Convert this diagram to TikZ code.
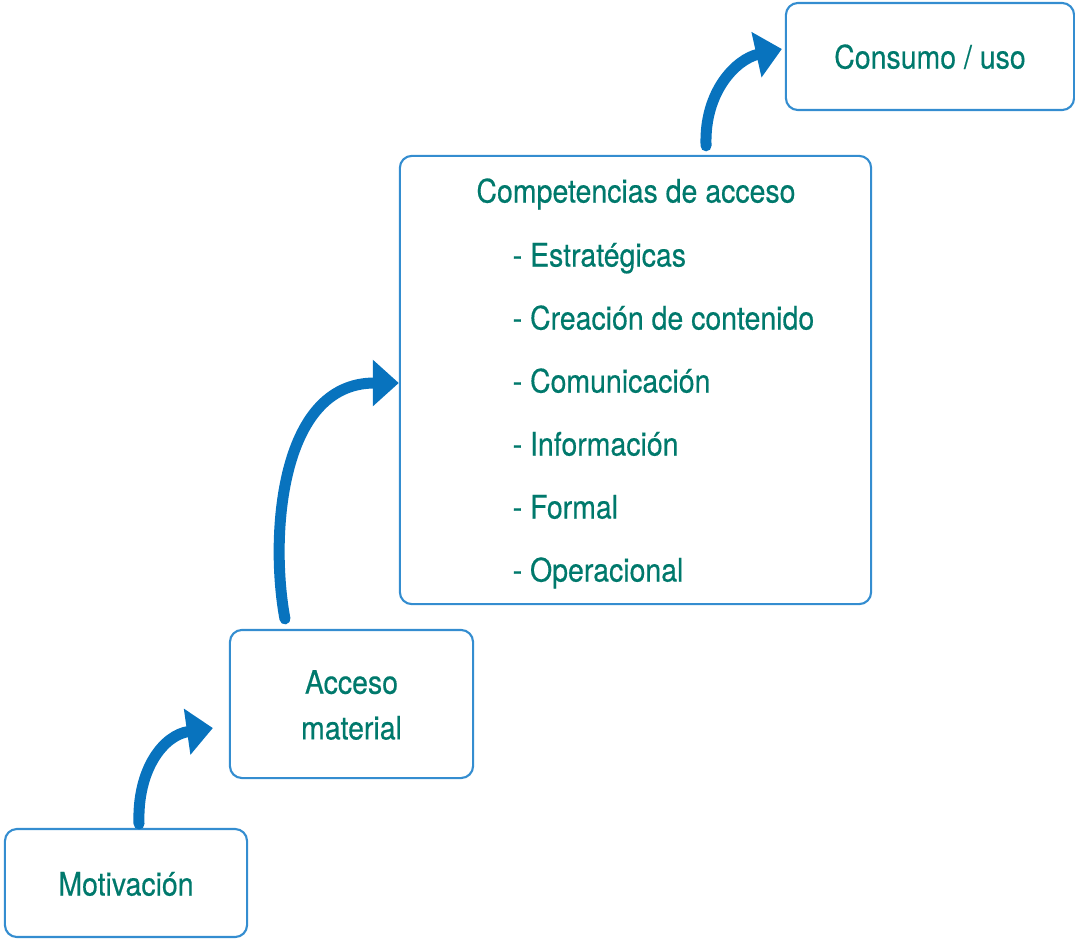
\documentclass[tikz,border=0pt]{standalone}
\usepackage{fontspec}
\setmainfont[FakeStretch=0.88, FakeBold=0.4]{TeX Gyre Heros}
\usetikzlibrary{arrows.meta}
\definecolor{tealtext}{RGB}{0,121,108}
\definecolor{boxblue}{RGB}{52,141,208}
\definecolor{arrowblue}{RGB}{8,115,190}

\begin{document}
\begin{tikzpicture}[x=0.01cm, y=-0.01cm,
		box/.style={draw=boxblue, line width=0.6pt, rounded corners=0.12cm, inner sep=0pt},
		lbl/.style={text=tealtext, font=\fontsize{9.2}{13}\selectfont, inner sep=0pt},
		flow/.style={draw=arrowblue, line width=0.11cm, line cap=round, -{Triangle[length=0.26cm, width=0.45cm]}}]
		%%%%% START %%%%%
		
		\useasboundingbox (0, 0) rectangle (1075, 938);
		
		\node[box, minimum width=2.42cm, minimum height=1.08cm] (mot) at (126, 883) {};
		\node[lbl, anchor=base] (motlbl) at (126, 895.5) {Motivación};
		
		\node[box, minimum width=2.43cm, minimum height=1.48cm] (acc) at (351.5, 704) {};
		\node[lbl, align=center] (acclbl) at (351.5, 705) {Acceso\\material};
		
		\node[box, minimum width=4.71cm, minimum height=4.48cm] (comp) at (635.5, 380) {};
		\node[lbl, anchor=base] (comptitle) at (636, 202.5) {Competencias de acceso};
		\foreach \item [count=\i] in {Estratégicas, Creación de contenido, Comunicación, Información, Formal, Operacional}
			\node[lbl, anchor=base west] (item\i) at (512, 203.5+63*\i) {- \item};
		
		\node[box, minimum width=2.88cm, minimum height=1.07cm] (cons) at (930, 56.5) {};
		\node[lbl, anchor=base] (conslbl) at (930, 68.5) {Consumo / uso};
		
		% arrows between the steps
		\draw[flow] ([xshift=0.13cm, yshift=0.04cm]mot.north) .. controls +(-2, -55) and +(-49, 7) .. ([xshift=-0.16cm, yshift=-0.24cm]acc.west);
		\draw[flow] ([xshift=-0.665cm, yshift=0.1cm]acc.north) .. controls +(-15, -80) and +(-120, 0) .. ([yshift=-0.03cm]comp.west);
		\draw[flow] ([xshift=0.705cm, yshift=0.09cm]comp.north) .. controls +(-2, -55) and +(-45, 10) .. ([xshift=-0.03cm, yshift=0.075cm]cons.west);
		
		%%%%% END %%%%%
\end{tikzpicture}
\end{document}
